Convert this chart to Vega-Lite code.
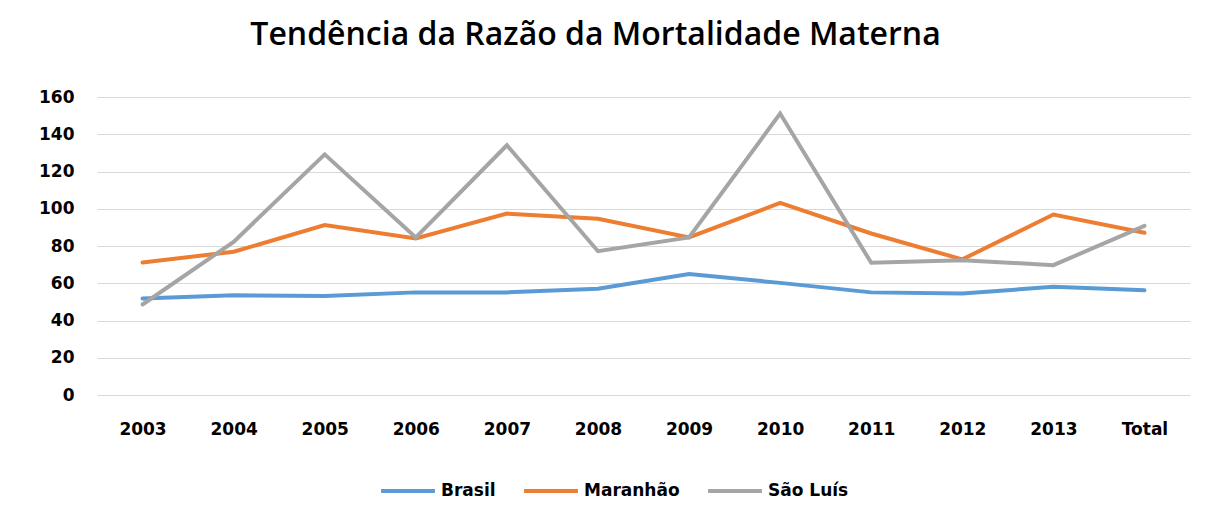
{
  "$schema": "https://vega.github.io/schema/vega-lite/v6.json",
  "width": 1093,
  "height": 298,
  "autosize": {"type": "none"},
  "padding": {"left": 97, "top": 97, "right": 28, "bottom": 123},
  "background": "white",
  "title": {
    "text": "Tendência da Razão da Mortalidade Materna",
    "font": "Open Sans",
    "fontSize": 32,
    "fontWeight": 600,
    "color": "#000000",
    "anchor": "middle",
    "dx": -48,
    "offset": 36
  },
  "data": {
    "values": [
      {"ano": "2003", "serie": "Brasil", "valor": 51.8},
      {"ano": "2004", "serie": "Brasil", "valor": 53.6},
      {"ano": "2005", "serie": "Brasil", "valor": 53.1},
      {"ano": "2006", "serie": "Brasil", "valor": 55.1},
      {"ano": "2007", "serie": "Brasil", "valor": 55.1},
      {"ano": "2008", "serie": "Brasil", "valor": 57.0},
      {"ano": "2009", "serie": "Brasil", "valor": 64.9},
      {"ano": "2010", "serie": "Brasil", "valor": 60.2},
      {"ano": "2011", "serie": "Brasil", "valor": 55.1},
      {"ano": "2012", "serie": "Brasil", "valor": 54.5},
      {"ano": "2013", "serie": "Brasil", "valor": 58.1},
      {"ano": "Total", "serie": "Brasil", "valor": 56.3},
      {"ano": "2003", "serie": "Maranhão", "valor": 71.1},
      {"ano": "2004", "serie": "Maranhão", "valor": 76.9},
      {"ano": "2005", "serie": "Maranhão", "valor": 91.2},
      {"ano": "2006", "serie": "Maranhão", "valor": 84.0},
      {"ano": "2007", "serie": "Maranhão", "valor": 97.4},
      {"ano": "2008", "serie": "Maranhão", "valor": 94.6},
      {"ano": "2009", "serie": "Maranhão", "valor": 84.6},
      {"ano": "2010", "serie": "Maranhão", "valor": 103.1},
      {"ano": "2011", "serie": "Maranhão", "valor": 86.7},
      {"ano": "2012", "serie": "Maranhão", "valor": 72.8},
      {"ano": "2013", "serie": "Maranhão", "valor": 96.9},
      {"ano": "Total", "serie": "Maranhão", "valor": 87.1},
      {"ano": "2003", "serie": "São Luís", "valor": 48.6},
      {"ano": "2004", "serie": "São Luís", "valor": 82.2},
      {"ano": "2005", "serie": "São Luís", "valor": 129.2},
      {"ano": "2006", "serie": "São Luís", "valor": 84.6},
      {"ano": "2007", "serie": "São Luís", "valor": 134.1},
      {"ano": "2008", "serie": "São Luís", "valor": 77.2},
      {"ano": "2009", "serie": "São Luís", "valor": 84.6},
      {"ano": "2010", "serie": "São Luís", "valor": 151.1},
      {"ano": "2011", "serie": "São Luís", "valor": 71.0},
      {"ano": "2012", "serie": "São Luís", "valor": 72.4},
      {"ano": "2013", "serie": "São Luís", "valor": 69.7},
      {"ano": "Total", "serie": "São Luís", "valor": 90.8}
    ]
  },
  "mark": {"type": "line", "strokeWidth": 4, "strokeCap": "round", "strokeJoin": "miter"},
  "encoding": {
    "x": {
      "field": "ano",
      "type": "ordinal",
      "sort": null,
      "scale": {"type": "point", "padding": 0.5},
      "axis": {
        "title": null,
        "labelAngle": 0,
        "labelFont": "DejaVu Sans",
        "labelFontSize": 17,
        "labelFontWeight": "bold",
        "labelColor": "#000000",
        "labelPadding": 26,
        "ticks": false,
        "domain": false,
        "grid": false
      }
    },
    "y": {
      "field": "valor",
      "type": "quantitative",
      "scale": {"domain": [0, 160], "nice": false},
      "axis": {
        "title": null,
        "values": [0, 20, 40, 60, 80, 100, 120, 140, 160],
        "labelFont": "DejaVu Sans",
        "labelFontSize": 17,
        "labelFontWeight": "bold",
        "labelColor": "#000000",
        "labelPadding": 23,
        "ticks": false,
        "domain": false,
        "grid": true,
        "gridColor": "#d9d9d9",
        "gridWidth": 1
      }
    },
    "color": {
      "field": "serie",
      "type": "nominal",
      "scale": {
        "domain": ["Brasil", "Maranhão", "São Luís"],
        "range": ["#5B9BD5", "#ED7D31", "#A5A5A5"]
      },
      "legend": {
        "title": null,
        "orient": "none",
        "legendX": 282,
        "legendY": 365,
        "direction": "horizontal",
        "symbolType": "stroke",
        "symbolSize": 2900,
        "symbolStrokeWidth": 4,
        "labelFont": "DejaVu Sans",
        "labelFontSize": 17,
        "labelFontWeight": "bold",
        "labelColor": "#000000",
        "labelOffset": 4,
        "columnPadding": 20
      }
    }
  },
  "config": {
    "view": {"stroke": null}
  }
}
